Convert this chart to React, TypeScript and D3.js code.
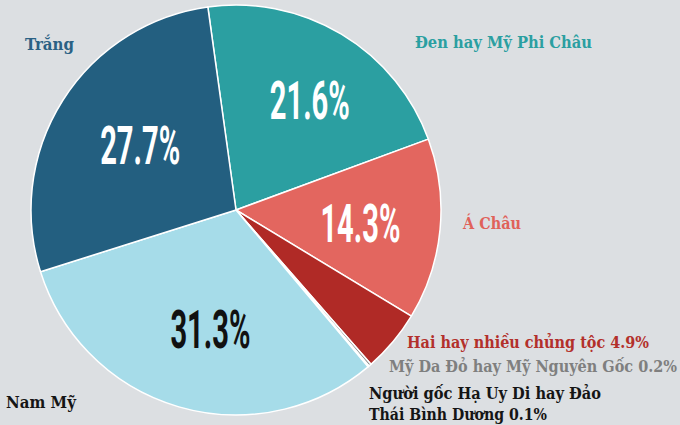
import React from "react";
import * as d3 from "d3";

const categories = [
  "Đen hay Mỹ Phi Châu",
  "Á Châu",
  "Hai hay nhiều chủng tộc",
  "Mỹ Da Đỏ hay Mỹ Nguyên Gốc",
  "Người gốc Hạ Uy Di hay Đảo Thái Bình Dương",
  "Nam Mỹ",
  "Trắng",
];
const values = [21.6, 14.3, 4.9, 0.2, 0.1, 31.3, 27.7];
const sliceColors = ["#2b9fa1", "#e3665f", "#b02a26", "#8a8a8a", "#2e2e2e", "#a6dce9", "#235f80"];
const insideLabels = ["21.6%", "14.3%", "", "", "", "31.3%", "27.7%"];
const insideColors = ["#ffffff", "#ffffff", "", "", "", "#111111", "#ffffff"];

const W = 680;
const H = 425;

export default function App() {
  const cx = 236;
  const cy = 210;
  const R = 205;
  const start = (-7.9 * Math.PI) / 180;
  const pie = d3
    .pie<number>()
    .sort(null)
    .startAngle(start)
    .endAngle(start + 2 * Math.PI);
  const arcs = pie(values);
  const arc = d3.arc<d3.PieArcDatum<number>>().innerRadius(0).outerRadius(R);
  const labelArc = d3.arc<d3.PieArcDatum<number>>().innerRadius(124).outerRadius(124);
  // small nudges of the inside labels
  const nudge: [number, number][] = [[10, -4], [1, 1], [0, 0], [0, 0], [0, 0], [9, 0], [9, 1]];

  const serif = "'DejaVu Serif Condensed', 'DejaVu Serif', serif";
  const outside = [
    { text: "Trắng", x: 25, y: 50, w: 49, color: "#2a6184", fs: 17 },
    { text: "Đen hay Mỹ Phi Châu", x: 415, y: 48, w: 177, color: "#2b9fa1", fs: 17 },
    { text: "Á Châu", x: 463, y: 229, w: 58, color: "#e0625a", fs: 17 },
    { text: "Hai hay nhiều chủng tộc 4.9%", x: 407, y: 348, w: 242, color: "#b3302b", fs: 17 },
    { text: "Mỹ Da Đỏ hay Mỹ Nguyên Gốc 0.2%", x: 389, y: 372, w: 288, color: "#7f7f7f", fs: 16 },
    { text: "Người gốc Hạ Uy Di hay Đảo", x: 369, y: 399, w: 232, color: "#151515", fs: 17 },
    { text: "Thái Bình Dương 0.1%", x: 369, y: 420, w: 178, color: "#151515", fs: 17 },
    { text: "Nam Mỹ", x: 6, y: 408, w: 70, color: "#151515", fs: 17 },
  ];

  return (
    <div style={{ position: "fixed", left: 0, top: 0 }}>
      <svg width={W} height={H} style={{ display: "block" }}>
        <rect width={W} height={H} fill="#dcdfe2" />
        <g transform={`translate(${cx},${cy})`}>
          {arcs.map((a, i) => (
            <path
              key={categories[i]}
              d={arc(a) || ""}
              fill={sliceColors[i]}
              stroke="#ffffff"
              strokeWidth={1.5}
              strokeLinejoin="round"
            />
          ))}
          {arcs.map((a, i) => {
            if (!insideLabels[i]) return null;
            const [lx, ly] = labelArc.centroid(a);
            return (
              <text
                key={"l" + i}
                x={lx + nudge[i][0]}
                y={ly + 19 + nudge[i][1]}
                textAnchor="middle"
                fill={insideColors[i]}
                fontFamily="Roboto, sans-serif"
                fontWeight={700}
                fontSize={53}
                textLength={80}
                lengthAdjust="spacingAndGlyphs"
              >
                {insideLabels[i]}
              </text>
            );
          })}
        </g>
        {outside.map((t) => (
          <text
            key={t.text}
            x={t.x}
            y={t.y}
            fill={t.color}
            fontFamily={serif}
            fontWeight={700}
            fontSize={t.fs}
            textLength={t.w}
            lengthAdjust="spacingAndGlyphs"
          >
            {t.text}
          </text>
        ))}
      </svg>
    </div>
  );
}
